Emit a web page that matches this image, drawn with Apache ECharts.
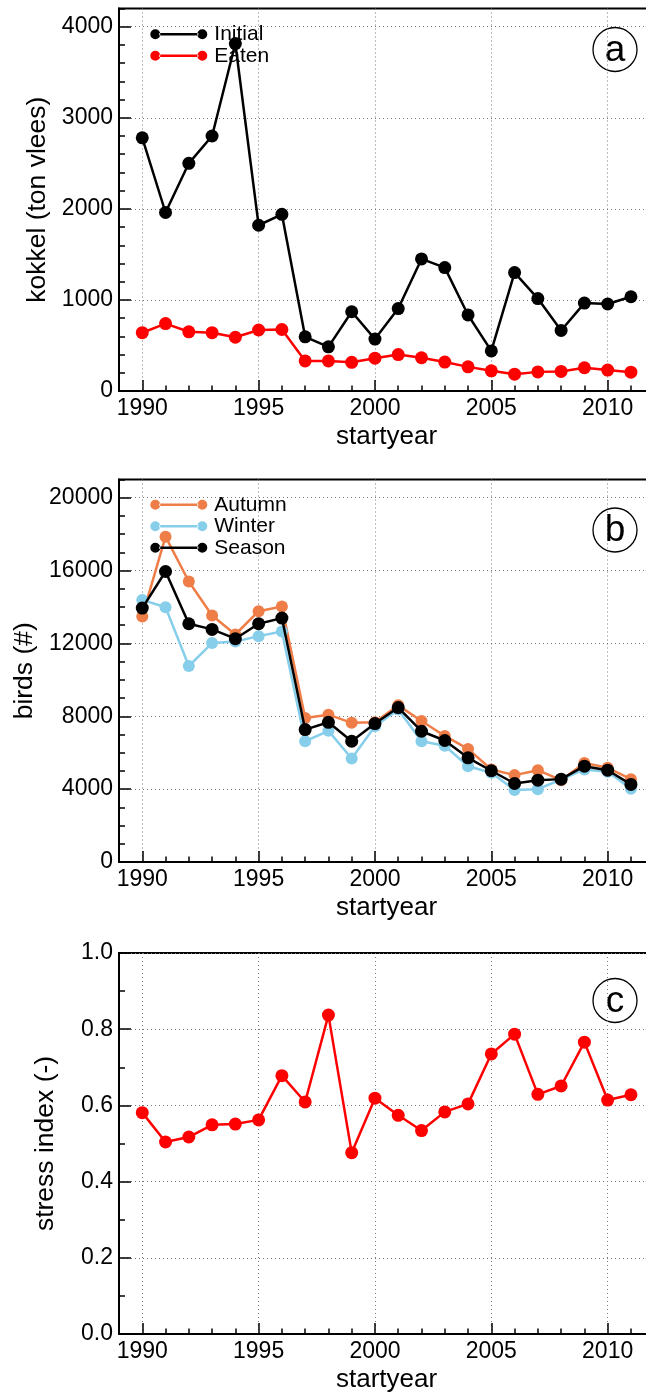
<!DOCTYPE html>
<html>
<head>
<meta charset="utf-8">
<script src="https://cdn.jsdelivr.net/npm/echarts@6/dist/echarts.min.js"></script>
<style>
html,body{margin:0;padding:0;background:#fff;}
#chart{width:646px;height:1394px;}
</style>
</head>
<body>
<div id="chart"></div>
<script>
// ---------- data ----------
const years = [1990,1991,1992,1993,1994,1995,1996,1997,1998,1999,2000,2001,2002,2003,2004,2005,2006,2007,2008,2009,2010,2011];
const initialKokkel = [2780,1960,2500,2800,3815,1820,1940,595,485,870,570,905,1450,1355,835,440,1300,1015,665,965,955,1035];
const eatenKokkel   = [640,740,650,640,590,670,675,330,330,315,360,400,365,318,265,222,185,210,215,255,230,207];
const autumnBirds = [13480,17860,15400,13530,12490,13770,14030,7910,8090,7640,7670,8600,7740,6920,6210,5080,4770,5040,4490,5440,5170,4550];
const winterBirds = [14390,13990,10760,12020,12100,12400,12660,6630,7200,5680,7450,8370,6630,6380,5260,4900,3950,4000,4530,5080,4950,4020];
const seasonBirds = [13940,15950,13080,12770,12260,13080,13390,7270,7670,6630,7600,8480,7180,6670,5720,5010,4310,4490,4550,5260,5040,4260];
const stressIndex = [0.581,0.504,0.517,0.549,0.551,0.562,0.678,0.609,0.837,0.476,0.619,0.574,0.534,0.583,0.604,0.735,0.787,0.629,0.651,0.766,0.614,0.628];

const yearTicks = [1990,1995,2000,2005,2010];
const kokkelTicks = [0,1000,2000,3000,4000];
const birdsTicks = [0,4000,8000,12000,16000,20000];
const stressTicks = [0,0.2,0.4,0.6,0.8,1.0];

// ---------- styling ----------
const FONT = 'Liberation Sans, Arial, Helvetica, sans-serif';
const C_BLACK = '#000000', C_RED = '#ff0000', C_ORANGE = '#ef7d47', C_BLUE = '#87ceeb';
const GRID_LEFT = 119, GRID_W = 535.2;
const panels = [
  {top: 8.5, height: 382.5, ymax: 4200, yminor: 200, yticks: kokkelTicks, yname: 'kokkel (ton vlees)', fmt: v => String(v)},
  {top: 479.5, height: 382.5, ymax: 21000, yminor: 1000, yticks: birdsTicks, yname: 'birds (#)', fmt: v => String(v)},
  {top: 953, height: 381, ymax: 1.0, yminor: 0.1, yticks: stressTicks, yname: 'stress index (-)', fmt: v => Number(v).toFixed(1)}
];

const grids = [], xAxes = [], yAxes = [];
panels.forEach((p, g) => {
  grids.push({left: GRID_LEFT, top: p.top, width: GRID_W, height: p.height,
    outerBoundsMode: 'none', containLabel: false,
    show: true, borderColor: '#000', borderWidth: 2, backgroundColor: 'transparent'});
  // minor x axis (every year)
  xAxes.push({type: 'value', gridIndex: g, min: 1989, max: 2012, interval: 1, position: 'bottom',
    axisLine: {show: true, onZero: false, lineStyle: {color: '#000', width: 2}},
    axisTick: {show: true, inside: true, length: 5.5, lineStyle: {color: '#000', width: 1.5}},
    axisLabel: {show: false}, splitLine: {show: false}});
  // major x axis
  xAxes.push({type: 'value', gridIndex: g, min: 1989, max: 2012, position: 'bottom',
    axisLine: {show: false, onZero: false},
    axisTick: {show: true, inside: true, length: 11, customValues: yearTicks, lineStyle: {color: '#000', width: 1.5}},
    axisLabel: {show: true, customValues: yearTicks, margin: 6, color: '#000', fontSize: 23, fontFamily: FONT,
      formatter: v => String(v)},
    splitLine: {show: true, lineStyle: {color: '#777', width: 1, type: [1, 3]}},
    name: 'startyear', nameLocation: 'middle', nameGap: 33,
    nameTextStyle: {color: '#000', fontSize: 26, fontFamily: FONT}});
  // minor y axis
  yAxes.push({type: 'value', gridIndex: g, min: 0, max: p.ymax, interval: p.yminor, position: 'left',
    axisLine: {show: true, onZero: false, lineStyle: {color: '#000', width: 2}},
    axisTick: {show: true, inside: true, length: 6, lineStyle: {color: '#000', width: 1.5}},
    axisLabel: {show: false}, splitLine: {show: false}});
  // major y axis
  yAxes.push({type: 'value', gridIndex: g, min: 0, max: p.ymax, position: 'left',
    axisLine: {show: false, onZero: false},
    axisTick: {show: true, inside: true, length: 12, customValues: p.yticks, lineStyle: {color: '#000', width: 1.5}},
    axisLabel: {show: true, customValues: p.yticks, margin: 6, color: '#000', fontSize: 23, fontFamily: FONT, formatter: p.fmt},
    splitLine: {show: true, lineStyle: {color: '#777', width: 1, type: [1, 3]}},
    name: p.yname, nameLocation: 'middle', nameGap: 60, nameRotate: 90,
    nameTextStyle: {color: '#000', fontSize: 26.5, fontFamily: FONT}});
});

function lineSeries(name, values, color, g, size, z) {
  return {
    type: 'line', name: name, xAxisIndex: 2 * g + 1, yAxisIndex: 2 * g + 1,
    data: years.map((y, i) => [y, values[i]]),
    symbol: 'circle', symbolSize: size, showSymbol: true, animation: false, z: z,
    lineStyle: {color: color, width: 2.5},
    itemStyle: {color: color, borderWidth: 0}
  };
}

const series = [
  lineSeries('Initial', initialKokkel, C_BLACK, 0, 13, 3),
  lineSeries('Eaten', eatenKokkel, C_RED, 0, 13, 2),
  lineSeries('Autumn', autumnBirds, C_ORANGE, 1, 12, 2),
  lineSeries('Winter', winterBirds, C_BLUE, 1, 12, 3),
  lineSeries('Season', seasonBirds, C_BLACK, 1, 13, 4),
  lineSeries('stress', stressIndex, C_RED, 2, 13, 2)
];

const ICON = 'path://M0,5A5,5,0,1,0,10,5A5,5,0,1,0,0,5Z M9,3.7L48,3.7L48,6.3L9,6.3Z M47,5A5,5,0,1,0,57,5A5,5,0,1,0,47,5Z';
function legend(names, top) {
  return {
    data: names, orient: 'vertical', left: 145.3, top: top,
    icon: ICON, itemWidth: 57, itemHeight: 10, itemGap: 0,
    symbolKeepAspect: false,
    itemStyle: {borderWidth: 0},
    textStyle: {color: '#000', fontSize: 21, fontFamily: FONT, lineHeight: 21.5, padding: [0, 0, 0, 2]},
    selectedMode: false, backgroundColor: 'transparent'
  };
}

function circleLabel(letter, cy) {
  return {
    type: 'group', x: 615, y: cy, z: 100,
    children: [
      {type: 'circle', shape: {cx: 0, cy: 0, r: 22}, style: {fill: '#fff', stroke: '#000', lineWidth: 1.3}},
      {type: 'text', x: 0, y: 1, style: {text: letter, fill: '#000', font: '37px ' + FONT,
        align: 'center', verticalAlign: 'middle', textAlign: 'center', textVerticalAlign: 'middle'}}
    ]
  };
}

const option = {
  backgroundColor: '#fff',
  animation: false,
  textStyle: {fontFamily: FONT},
  grid: grids,
  xAxis: xAxes,
  yAxis: yAxes,
  legend: [legend(['Initial', 'Eaten'], 18.5), legend(['Autumn', 'Winter', 'Season'], 489)],
  series: series,
  graphic: [circleLabel('a', 49.5), circleLabel('b', 530), circleLabel('c', 1000.5)]
};

const chart = echarts.init(document.getElementById('chart'), null, {renderer: 'canvas'});
chart.setOption(option);
</script>
</body>
</html>
